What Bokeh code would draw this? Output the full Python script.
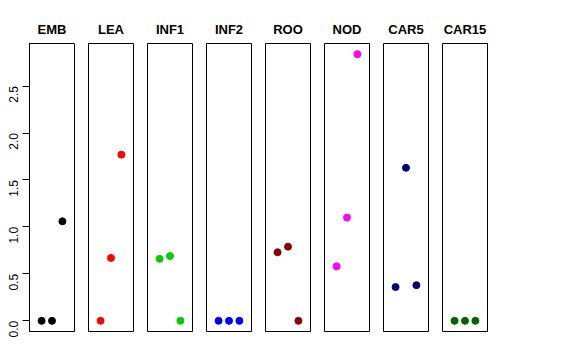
import math
from bokeh.plotting import figure
from bokeh.layouts import row
from bokeh.models import Range1d, FixedTicker, ColumnDataSource
from bokeh.embed import file_html
from bokeh.resources import INLINE

# ---- data ----
categories = ["EMB", "LEA", "INF1", "INF2", "ROO", "NOD", "CAR5", "CAR15"]
replicates = [1, 2, 3]
emb = [0.0, 0.0, 1.06]
lea = [0.0, 0.67, 1.77]
inf1 = [0.66, 0.69, 0.0]
inf2 = [0.0, 0.0, 0.0]
roo = [0.73, 0.79, 0.0]
nod = [0.58, 1.10, 2.84]
car5 = [0.36, 1.63, 0.38]
car15 = [0.0, 0.0, 0.0]
series = [emb, lea, inf1, inf2, roo, nod, car5, car15]
colors = ["black", "red", "#00CD00", "blue", "#8B0000", "magenta", "#000080", "#006400"]
y_ticks = [0.0, 0.5, 1.0, 1.5, 2.0, 2.5]
y_tick_labels = ["0.0", "0.5", "1.0", "1.5", "2.0", "2.5"]

ymax = max(max(s) for s in series)
ypad = 0.04 * ymax
FONT = "Liberation Sans"

figs = []
for i, (cat, vals, col) in enumerate(zip(categories, series, colors)):
    first = i == 0
    p = figure(
        output_backend="svg", toolbar_location=None,
        frame_width=45, frame_height=288,
        x_range=Range1d(-0.16, 4.16), y_range=Range1d(-ypad, ymax + ypad),
        x_axis_location=None, y_axis_location="left" if first else None,
        min_border_left=29 if first else 7, min_border_right=7,
        min_border_top=43, min_border_bottom=8,
        background_fill_color="white", border_fill_color="white",
    )
    p.grid.visible = False
    p.outline_line_color = "black"
    p.outline_line_width = 1
    p.title.text = cat
    p.title.align = "center"
    p.title.text_font = FONT
    p.title.text_font_size = "13px"
    p.title.text_font_style = "bold"
    p.title.text_color = "black"
    p.title.standoff = 13
    src = ColumnDataSource(dict(x=replicates, y=vals))
    p.scatter("x", "y", source=src, size=7, color=col, line_color=col)
    if first:
        ax = p.yaxis[0]
        ax.ticker = FixedTicker(ticks=y_ticks)
        ax.major_label_overrides = {t: l for t, l in zip(y_ticks, y_tick_labels)}
        ax.major_label_orientation = math.pi / 2
        ax.major_label_text_font = FONT
        ax.major_label_text_font_size = "12px"
        ax.major_label_text_color = "black"
        ax.major_label_standoff = 9
        ax.major_tick_out = 7
        ax.major_tick_in = 0
        ax.minor_tick_out = 0
        ax.minor_tick_in = 0
        ax.axis_line_color = "black"
        ax.major_tick_line_color = "black"
    figs.append(p)

layout = row(*figs, spacing=0)
open("out.html", "w").write(file_html(layout, INLINE))
